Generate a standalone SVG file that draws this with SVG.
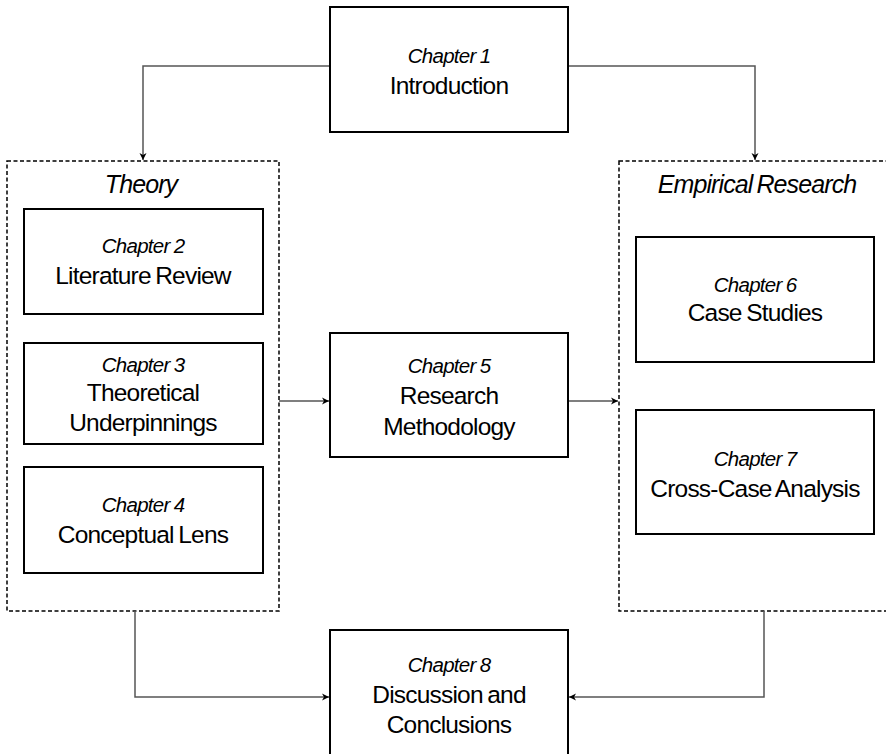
<svg xmlns="http://www.w3.org/2000/svg" width="886" height="754" viewBox="0 0 886 754">
  <style>
    .box { fill: #ffffff; stroke: #000000; stroke-width: 2; }
    .group { fill: none; stroke: #000000; stroke-width: 1.5; stroke-dasharray: 4 2.5; }
    .link { fill: none; stroke: #555555; stroke-width: 1.5; }
    text { font-family: "Liberation Sans", Arial, sans-serif; text-anchor: middle; fill: #000000; }
    .ch { font-style: italic; font-size: 20.5px; word-spacing: -1px; letter-spacing: -0.7px; }
    .title { font-size: 24.5px; word-spacing: -1.5px; letter-spacing: -0.8px; }
    .glabel { font-style: italic; font-size: 25px; word-spacing: -2px; letter-spacing: -0.9px; }
  </style>
  <defs>
    <marker id="arrow" markerWidth="8" markerHeight="8" refX="7" refY="4" orient="auto" markerUnits="userSpaceOnUse">
      <path d="M0,0.5 L7,4 L0,7.5 L2,4 Z" fill="#000000"/>
    </marker>
  </defs>

  <rect width="886" height="754" fill="#ffffff"/>

  <!-- dashed groupings -->
  <g id="theory">
    <rect class="group" x="7" y="161" width="272" height="450"/>
    <text class="glabel" x="141" y="193">Theory</text>
  </g>
  <g id="empirical">
    <rect class="group" x="619" y="161" width="280" height="450"/>
    <text class="glabel" x="757" y="193">Empirical Research</text>
  </g>

  <!-- connectors -->
  <g id="connectors">
    <path class="link" d="M330,66 H143 V160" marker-end="url(#arrow)"/>
    <path class="link" d="M568,66 H755 V160" marker-end="url(#arrow)"/>
    <path class="link" d="M279,401 H329" marker-end="url(#arrow)"/>
    <path class="link" d="M568,401 H618" marker-end="url(#arrow)"/>
    <path class="link" d="M135,611 V697 H329" marker-end="url(#arrow)"/>
    <path class="link" d="M764,611 V697 H569" marker-end="url(#arrow)"/>
  </g>

  <g id="ch1">
    <rect class="box" x="330" y="7" width="238" height="125"/>
    <text class="ch" x="449" y="63">Chapter 1</text>
    <text class="title" x="449" y="94">Introduction</text>
  </g>
  <g id="ch2">
    <rect class="box" x="24" y="209" width="239" height="105"/>
    <text class="ch" x="143" y="253">Chapter 2</text>
    <text class="title" x="143" y="284">Literature Review</text>
  </g>
  <g id="ch3">
    <rect class="box" x="24" y="343" width="239" height="101"/>
    <text class="ch" x="143" y="372">Chapter 3</text>
    <text class="title" x="143" y="401">Theoretical</text>
    <text class="title" x="143" y="431">Underpinnings</text>
  </g>
  <g id="ch4">
    <rect class="box" x="24" y="467" width="239" height="106"/>
    <text class="ch" x="143" y="512">Chapter 4</text>
    <text class="title" x="143" y="543">Conceptual Lens</text>
  </g>
  <g id="ch5">
    <rect class="box" x="330" y="333" width="238" height="124"/>
    <text class="ch" x="449" y="373">Chapter 5</text>
    <text class="title" x="449" y="404">Research</text>
    <text class="title" x="449" y="435">Methodology</text>
  </g>
  <g id="ch6">
    <rect class="box" x="636" y="237" width="238" height="125"/>
    <text class="ch" x="755" y="292">Chapter 6</text>
    <text class="title" x="755" y="321">Case Studies</text>
  </g>
  <g id="ch7">
    <rect class="box" x="636" y="410" width="238" height="124"/>
    <text class="ch" x="755" y="466">Chapter 7</text>
    <text class="title" x="755" y="497">Cross-Case Analysis</text>
  </g>
  <g id="ch8">
    <rect class="box" x="330" y="630" width="238" height="140"/>
    <text class="ch" x="449" y="672">Chapter 8</text>
    <text class="title" x="449" y="703">Discussion and</text>
    <text class="title" x="449" y="733">Conclusions</text>
  </g>
</svg>
